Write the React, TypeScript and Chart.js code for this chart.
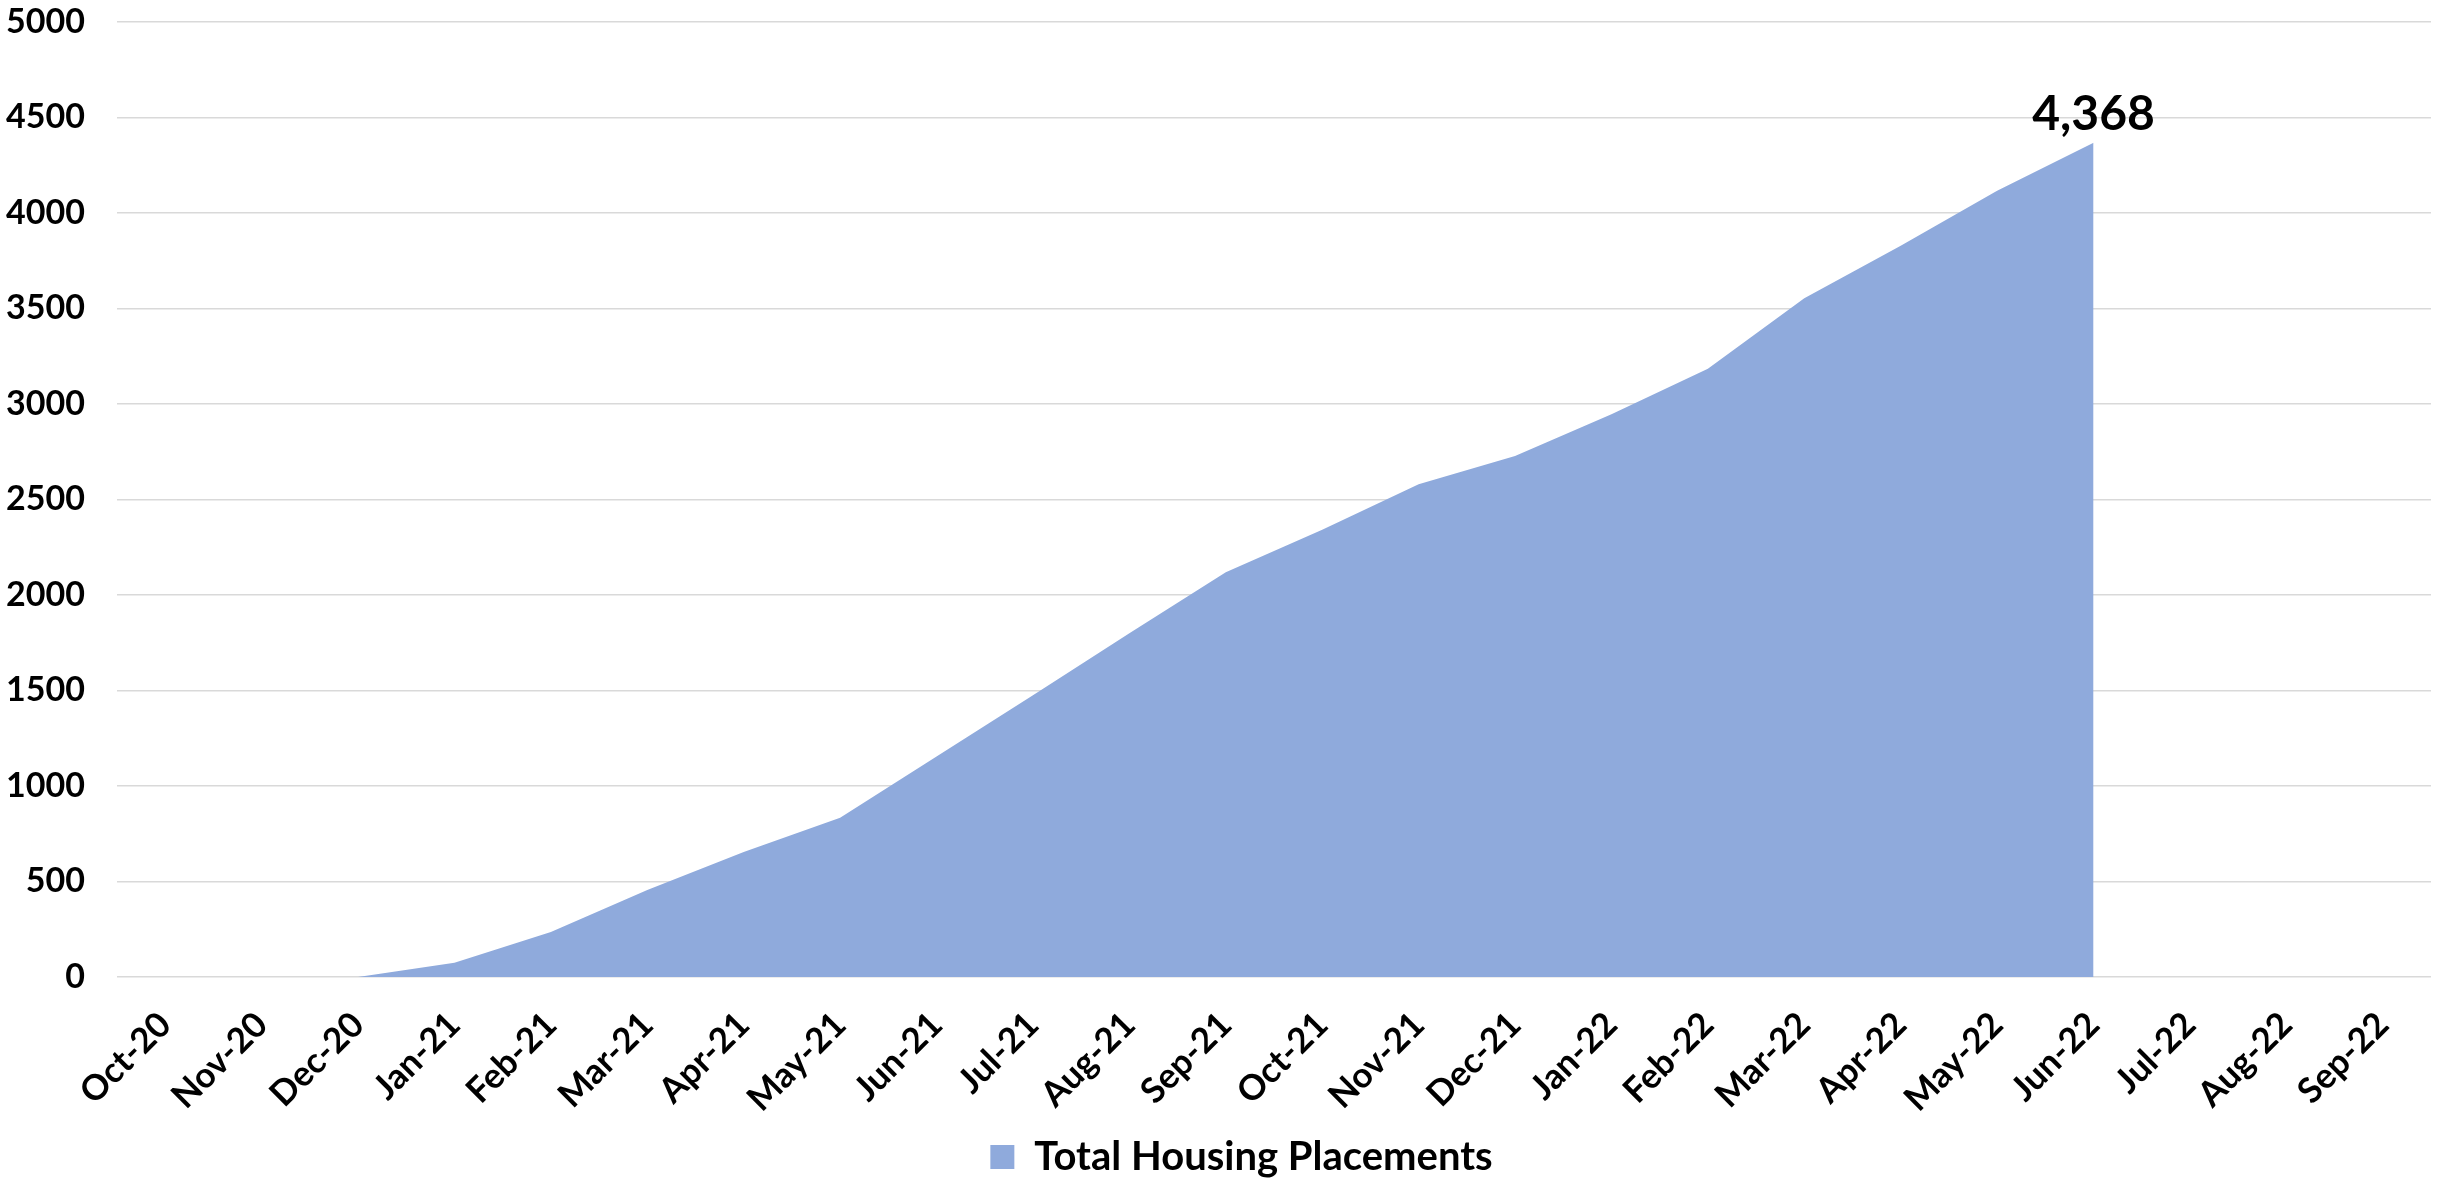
import React, { useEffect, useRef } from "react";
import { Chart, registerables } from "chart.js";

Chart.register(...registerables);

const months: string[] = [
  "Oct-20", "Nov-20", "Dec-20", "Jan-21", "Feb-21", "Mar-21", "Apr-21", "May-21",
  "Jun-21", "Jul-21", "Aug-21", "Sep-21", "Oct-21", "Nov-21", "Dec-21", "Jan-22",
  "Feb-22", "Mar-22", "Apr-22", "May-22", "Jun-22", "Jul-22", "Aug-22", "Sep-22",
];

const placements: (number | null)[] = [
  0, 0, 0, 75, 236, 455, 655, 834,
  1155, 1475, 1800, 2119, 2342, 2580, 2728, 2946,
  3185, 3554, 3829, 4117, 4368, null, null, null,
];

const seriesLabel = "Total Housing Placements";
const yMin = 0;
const yMax = 5000;
const yStep = 500;

const FONT = "Lato, 'Open Sans', sans-serif";

const lastValueLabel = {
  id: "lastValueLabel",
  afterDatasetsDraw(chart: any) {
    const meta = chart.getDatasetMeta(0);
    const data = chart.data.datasets[0].data as (number | null)[];
    let idx = -1;
    for (let i = data.length - 1; i >= 0; i--) {
      if (data[i] !== null && data[i] !== undefined) { idx = i; break; }
    }
    if (idx < 0) return;
    const el = meta.data[idx];
    const ctx = chart.ctx;
    ctx.save();
    ctx.font = `bold 48px ${FONT}`;
    ctx.fillStyle = "#000000";
    ctx.textAlign = "center";
    ctx.textBaseline = "alphabetic";
    ctx.fillText((data[idx] as number).toLocaleString("en-US"), el.x, el.y - 13);
    ctx.restore();
  },
};

// Excel centres the legend slightly right of the canvas centre
const legendShift = {
  id: "legendShift",
  afterLayout(chart: any) {
    if (chart.legend) chart.legend.left += 52;
  },
};

export default function App() {
  const ref = useRef<HTMLCanvasElement | null>(null);

  useEffect(() => {
    document.body.style.margin = "0";
    const canvas = ref.current;
    if (!canvas) return;
    const chart = new Chart(canvas, {
      type: "line",
      data: {
        labels: months,
        datasets: [
          {
            label: seriesLabel,
            data: placements,
            fill: "origin",
            backgroundColor: "#8FAADC",
            borderColor: "#8FAADC",
            borderWidth: 0,
            pointRadius: 0,
            pointHoverRadius: 0,
            tension: 0,
            spanGaps: false,
          },
        ],
      },
      options: {
        responsive: false,
        animation: false,
        layout: { padding: { left: 0, right: 9, top: 22, bottom: -6 } },
        plugins: {
          legend: {
            display: true,
            position: "bottom",
            labels: {
              boxWidth: 24,
              boxHeight: 24,
              padding: 4,
              color: "#000000",
              font: { family: FONT, size: 40, weight: "bold" },
            },
          },
          tooltip: { enabled: false },
        },
        scales: {
          x: {
            offset: true,
            grid: { display: false, drawTicks: false },
            border: { display: false },
            ticks: {
              autoSkip: false,
              minRotation: 45,
              maxRotation: 45,
              padding: 27,
              color: "#000000",
              font: { family: FONT, size: 35, weight: "bold" },
            },
            afterFit: (scale: any) => { scale.height = 156; },
          },
          y: {
            min: yMin,
            max: yMax,
            grid: { color: "#d9d9d9", lineWidth: 1.5, drawTicks: false },
            border: { display: false },
            ticks: {
              stepSize: yStep,
              padding: 32,
              color: "#000000",
              font: { family: FONT, size: 34, weight: "bold" },
              callback: (v: any) => String(v),
            },
            afterFit: (scale: any) => {
              scale.width = 117;
              scale.paddingTop = 0;
              scale.paddingBottom = 0;
            },
          },
        },
      },
      plugins: [lastValueLabel, legendShift],
    });
    return () => chart.destroy();
  }, []);

  return (
    <div style={{ position: "fixed", left: 0, top: 0, width: 2440, height: 1181, background: "#ffffff" }}>
      <canvas ref={ref} width={2440} height={1181} style={{ display: "block" }} />
    </div>
  );
}
